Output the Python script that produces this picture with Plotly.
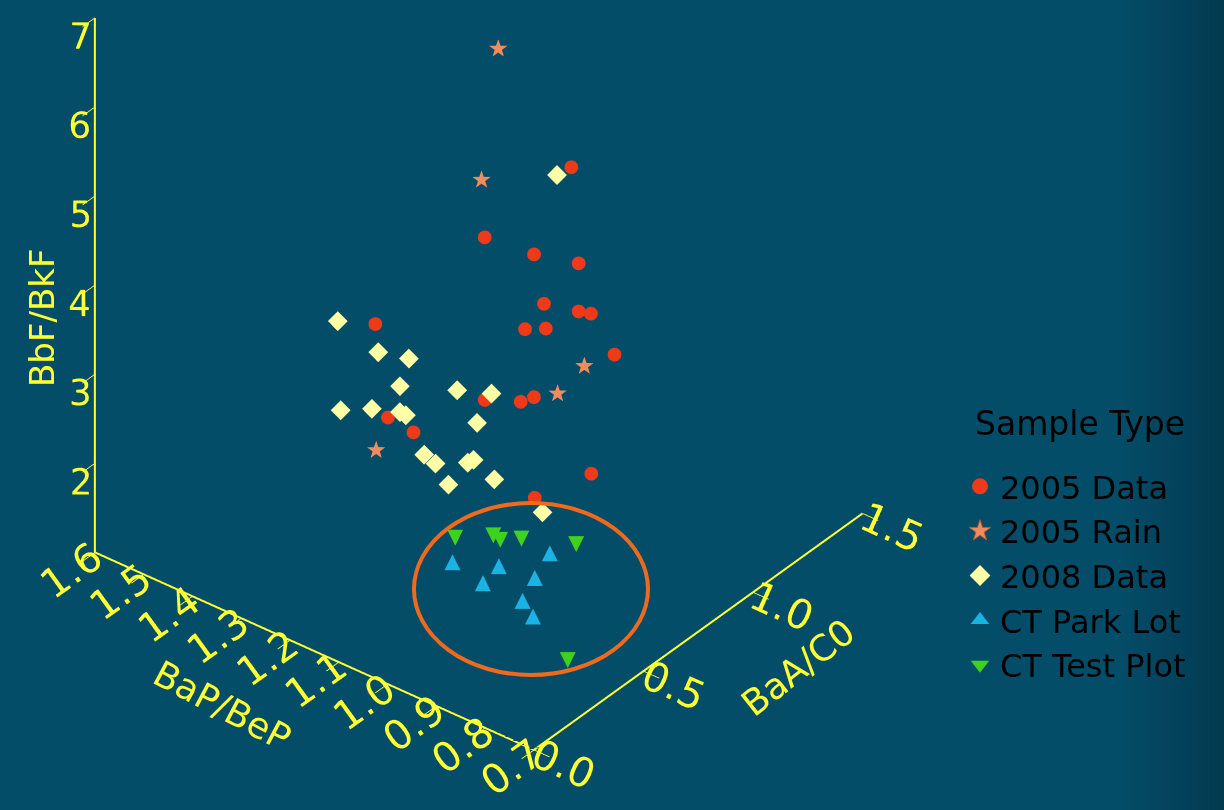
import plotly.graph_objects as go

# ---------------- data ----------------
# 2005 Data
d05_bap = [1.022, 1.138, 1.049, 1.002, 1.039, 1.002, 0.989, 1.059, 1.037, 1.302, 0.964, 1.084, 1.023, 1.016, 1.230, 1.175, 0.911, 0.926]
d05_baa = [0.887, 0.750, 0.777, 0.876, 0.800, 0.876, 0.903, 0.758, 0.804, 0.616, 0.955, 0.630, 0.658, 0.703, 0.513, 0.507, 0.731, 0.506]
d05_bbf = [5.18, 4.35, 4.33, 4.17, 3.76, 3.63, 3.59, 3.50, 3.48, 3.21, 3.10, 2.87, 2.95, 2.94, 2.52, 2.50, 2.29, 2.38]

# 2005 Rain
r05_bap = [1.247, 1.160, 0.996, 1.005, 1.222]
r05_baa = [1.054, 0.784, 0.888, 0.786, 0.441]
r05_bbf = [5.67, 4.89, 3.02, 2.87, 2.31]

# 2008 Data
d08_bap = [1.039, 1.342, 1.299, 1.246, 1.237, 1.139, 1.079, 1.315, 1.264, 1.215, 1.202, 1.077, 1.138, 1.111, 1.058, 1.051, 1.000, 1.072, 0.908]
d08_baa = [0.859, 0.533, 0.622, 0.644, 0.583, 0.626, 0.649, 0.486, 0.515, 0.534, 0.532, 0.579, 0.473, 0.465, 0.494, 0.505, 0.486, 0.437, 0.501]
d08_bbf = [5.10, 3.29, 2.89, 2.91, 2.73, 2.85, 2.92, 2.44, 2.53, 2.58, 2.58, 2.72, 2.40, 2.38, 2.47, 2.50, 2.44, 2.29, 2.27]

# CT Park Lot
pl_bap = [0.998, 0.917, 0.929, 0.866, 0.854, 0.848, 0.820]
pl_baa = [0.291, 0.322, 0.276, 0.441, 0.346, 0.277, 0.262]
pl_bbf = [1.86, 1.96, 1.82, 2.02, 1.94, 1.82, 1.74]

# CT Test Plot
tp_bap = [1.014, 0.953, 0.938, 0.904, 0.858, 0.759]
tp_baa = [0.339, 0.377, 0.375, 0.396, 0.544, 0.285]
tp_bbf = [2.01, 2.12, 2.11, 2.17, 1.96, 1.36]

# axes
baa_range = [0.0, 1.5]
bap_range = [0.7, 1.6]
bbf_range = [1.0, 7.0]
baa_ticks = [0.0, 0.5, 1.0, 1.5]
baa_labels = ["0.0", "0.5", "1.0", "1.5"]
bap_ticks = [0.7, 0.8, 0.9, 1.0, 1.1, 1.2, 1.3, 1.4, 1.5, 1.6]
bap_labels = ["0.7", "0.8", "0.9", "1.0", "1.1", "1.2", "1.3", "1.4", "1.5", "1.6"]
bbf_ticks = [2, 3, 4, 5, 6, 7]
bbf_labels = ["2", "3", "4", "5", "6", "7"]

# ---------------- style ----------------
BG = "#044D69"
YEL = "#FFFF33"
FONT = "DejaVu Sans, Liberation Sans, Arial, sans-serif"
C_2005 = "#EE3A18"
C_RAIN = "#F28C5C"
C_2008 = "#FFFFA6"
C_PARK = "#1BB2E4"
C_TEST = "#3ED21C"
# placement of the upright vertical-axis labels next to the z edge
ZLABEL_DROP = 0.44
ZLABEL_INSET = 0.137

fig = go.Figure()

# axis frame: z edge, BaP edge, BaA edge (one polyline along the box edges of the axis ranges)
fig.add_trace(go.Scatter3d(
    x=[baa_range[0], baa_range[0], baa_range[0], baa_range[1]],
    y=[bap_range[1], bap_range[1], bap_range[0], bap_range[0]],
    z=[bbf_range[1], bbf_range[0], bbf_range[0], bbf_range[0]],
    mode="lines", line=dict(color=YEL, width=4), showlegend=False, hoverinfo="skip"))

# upright tick labels of the vertical axis
fig.add_trace(go.Scatter3d(
    x=[baa_range[0] + ZLABEL_INSET] * len(bbf_ticks), y=[bap_range[1]] * len(bbf_ticks),
    z=[v - ZLABEL_DROP for v in bbf_ticks],
    mode="text", text=bbf_labels, textposition="middle left",
    textfont=dict(size=36, color=YEL, family=FONT), showlegend=False, hoverinfo="skip"))

# 3D traces (the actual marks)
fig.add_trace(go.Scatter3d(x=d05_baa, y=d05_bap, z=d05_bbf, mode="markers",
                           marker=dict(symbol="circle", size=8, color=C_2005, line=dict(width=0)),
                           name="2005 Data", showlegend=False, hoverinfo="skip"))
fig.add_trace(go.Scatter3d(x=r05_baa, y=r05_bap, z=r05_bbf, mode="text", text=["★"] * len(r05_bap),
                           textposition="middle center",
                           textfont=dict(size=24, color=C_RAIN, family="DejaVu Sans"),
                           name="2005 Rain", showlegend=False, hoverinfo="skip"))
fig.add_trace(go.Scatter3d(x=d08_baa, y=d08_bap, z=d08_bbf, mode="markers",
                           marker=dict(symbol="diamond", size=6.5, color=C_2008, line=dict(width=0)),
                           name="2008 Data", showlegend=False, hoverinfo="skip"))
fig.add_trace(go.Scatter3d(x=pl_baa, y=pl_bap, z=pl_bbf, mode="text", text=["▲"] * len(pl_bap),
                           textposition="middle center",
                           textfont=dict(size=21, color=C_PARK, family="DejaVu Sans"),
                           name="CT Park Lot", showlegend=False, hoverinfo="skip"))
fig.add_trace(go.Scatter3d(x=tp_baa, y=tp_bap, z=tp_bbf, mode="text", text=["▼"] * len(tp_bap),
                           textposition="middle center",
                           textfont=dict(size=21, color=C_TEST, family="DejaVu Sans"),
                           name="CT Test Plot", showlegend=False, hoverinfo="skip"))

# legend entries
legend_items = [("2005 Data", "circle", C_2005), ("2005 Rain", "star", C_RAIN),
                ("2008 Data", "diamond", C_2008), ("CT Park Lot", "triangle-up", C_PARK),
                ("CT Test Plot", "triangle-down", C_TEST)]
for nm, sym, col in legend_items:
    fig.add_trace(go.Scatter(x=[None], y=[None], mode="markers", name=nm,
                             marker=dict(symbol=sym, size=16, color=col,
                                         line=dict(width=1 if sym == "star" else 0, color="#B85A34"))))

axis_common = dict(showbackground=False, showgrid=False, zeroline=False, showline=False,
                   ticks="inside", tickcolor=YEL, tickwidth=2,
                   ticklen=20, tickfont=dict(size=22, color=YEL, family=FONT), showspikes=False,
                   autorange=False, title=dict(text=""))

# camera: orthographic view, direction from the centre toward the viewer
view_dir = (-0.645, -0.510, 0.569)
cam_center = (0.0506, -0.3795, -0.283)
dist = 1.0

TITLE_FONT = dict(size=36, color=YEL, family=FONT)

fig.update_layout(
    width=1224, height=810,
    paper_bgcolor=BG, plot_bgcolor="rgba(0,0,0,0)",
    margin=dict(l=0, r=0, t=0, b=0),
    xaxis=dict(visible=False), yaxis=dict(visible=False),
    scene=dict(
        domain=dict(x=[0, 1], y=[0, 1]),
        bgcolor="rgba(0,0,0,0)",
        xaxis=dict(axis_common, range=baa_range, tickvals=baa_ticks, ticktext=baa_labels),
        yaxis=dict(axis_common, range=bap_range, tickvals=bap_ticks, ticktext=bap_labels),
        zaxis=dict(axis_common, range=bbf_range, tickvals=bbf_ticks, ticktext=bbf_labels,
                   showticklabels=False),
        aspectmode="manual", aspectratio=dict(x=1.308, y=1.382, z=1.605),
        camera=dict(eye=dict(x=cam_center[0] + dist * view_dir[0],
                             y=cam_center[1] + dist * view_dir[1],
                             z=cam_center[2] + dist * view_dir[2]),
                    center=dict(x=cam_center[0], y=cam_center[1], z=cam_center[2]),
                    up=dict(x=0, y=0, z=1),
                    projection=dict(type="orthographic")),
    ),
    legend=dict(x=960 / 1224, y=1 - 459 / 810, xanchor="left", yanchor="top",
                bgcolor="rgba(0,0,0,0)", tracegroupgap=0,
                font=dict(size=32, color="#000000", family=FONT)),
    annotations=[
        dict(text="Sample Type", xref="paper", yref="paper", x=973 / 1224, y=1 - 423 / 810,
             xanchor="left", yanchor="middle", showarrow=False,
             font=dict(size=33, color="#000000", family=FONT)),
        dict(text="BbF/BkF", xref="paper", yref="paper", x=42 / 1224, y=1 - 318 / 810,
             xanchor="center", yanchor="middle", showarrow=False, textangle=-90,
             font=dict(size=34, color=YEL, family=FONT)),
        dict(text="BaP/BeP", xref="paper", yref="paper", x=222 / 1224, y=1 - 705 / 810,
             xanchor="center", yanchor="middle", showarrow=False, textangle=28,
             font=TITLE_FONT),
        dict(text="BaA/C0", xref="paper", yref="paper", x=798 / 1224, y=1 - 667 / 810,
             xanchor="center", yanchor="middle", showarrow=False, textangle=-38,
             font=TITLE_FONT),
    ],
    shapes=[dict(type="circle", xref="paper", yref="paper",
                 x0=414 / 1224, x1=648 / 1224, y0=1 - 675 / 810, y1=1 - 503 / 810,
                 line=dict(color="#F06A1E", width=4), layer="above")],
    showlegend=True,
)

# darker band at the right edge
n_band = 20
for i in range(n_band):
    t = (i + 1) / n_band
    r = round(4 + (3 - 4) * t)
    g = round(77 + (58 - 77) * t)
    b = round(105 + (80 - 105) * t)
    fig.add_shape(type="rect", xref="paper", yref="paper", x0=(1120 + 5.2 * i) / 1224,
                  x1=(1120 + 5.2 * (i + 1)) / 1224, y0=0, y1=1, line=dict(width=0),
                  fillcolor=f"rgb({r},{g},{b})", layer="below")

fig.write_html("out.html", config={"displayModeBar": False},
               post_script="document.body.style.margin='0';document.body.style.padding='0';"
                           "document.body.style.overflow='hidden';")
